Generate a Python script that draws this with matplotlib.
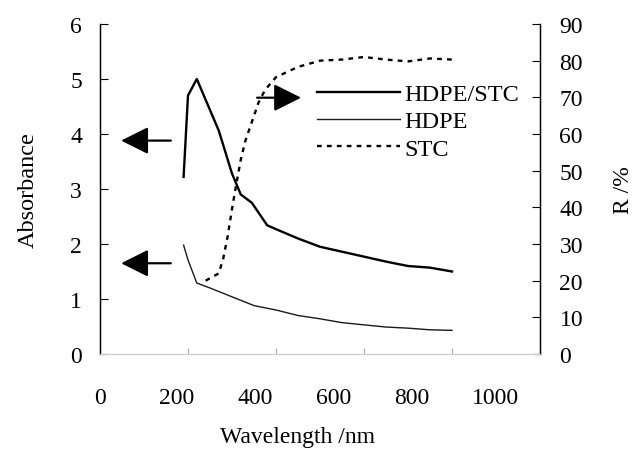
import matplotlib
matplotlib.use("Agg")
import matplotlib.pyplot as plt
from matplotlib.ticker import FixedLocator

plt.rcParams['font.family'] = ['Liberation Serif', 'DejaVu Serif']

# ---- data ----
hdpe_stc_wl = [190, 200, 220, 270, 300, 320, 345, 380, 400, 450, 500, 550, 600, 650, 700, 750, 800]
hdpe_stc_abs = [3.22, 4.70, 5.00, 4.06, 3.28, 2.90, 2.75, 2.34, 2.27, 2.10, 1.95, 1.86, 1.77, 1.68, 1.60, 1.57, 1.50]

hdpe_wl = [190, 200, 220, 250, 300, 350, 400, 450, 500, 550, 600, 650, 700, 750, 800]
hdpe_abs = [1.98, 1.71, 1.29, 1.20, 1.04, 0.88, 0.80, 0.70, 0.64, 0.57, 0.53, 0.49, 0.47, 0.44, 0.43]

stc_wl = [240, 270, 280, 290, 300, 310, 320, 330, 340, 350, 360, 375, 400, 450, 500, 550, 600, 650, 700, 750, 800]
stc_r = [20.0, 22.0, 26.0, 32.0, 39.5, 46.5, 53.0, 58.0, 61.5, 65.0, 68.5, 72.0, 75.5, 78.3, 80.0, 80.3, 81.0, 80.3, 79.8, 80.6, 80.3]

x_tick_values = [0, 200, 400, 600, 800, 1000]
x_tick_labels = ['0', '200', '400', '600', '800', '1000']
# where the printed x labels sit in the original figure (shifted relative to the marks)
x_label_pos = [0, 175, 352, 530, 709, 898]
left_ticks = [0, 1, 2, 3, 4, 5, 6]
right_ticks = [0, 10, 20, 30, 40, 50, 60, 70, 80, 90]

# arrows: (tail_x, tip_x, absorbance level)
arrows = [(161, 48, 3.88), (161, 48, 1.65), (357, 457, 4.66)]

W, H = 635, 452
fig = plt.figure(figsize=(W / 100, H / 100), dpi=100)
ax = fig.add_axes([100 / W, 1 - 355 / H, 440 / W, 330 / H])
ax2 = ax.twinx()

l1, = ax.plot(hdpe_stc_wl, hdpe_stc_abs, color='black', lw=1.7, label='HDPE/STC')
l2, = ax.plot(hdpe_wl, hdpe_abs, color='#1a1a1a', lw=1.0, label='HDPE')
l3, = ax2.plot(stc_wl, stc_r, color='black', lw=1.7, linestyle=(0, (2.0, 2.2)), label='STC')

ax.set_xlim(0, 1000)
ax.set_ylim(0, 6)
ax2.set_ylim(0, 90)

fs = 17
ax.set_yticks(left_ticks)
ax.set_yticklabels([str(v) for v in left_ticks])
ax2.set_yticks(right_ticks)
ax2.set_yticklabels([str(v) for v in right_ticks])
ax.tick_params(axis='y', direction='in', length=6, width=0.8, pad=13, labelsize=fs)
ax2.tick_params(axis='y', direction='in', length=6, width=0.8, pad=14, labelsize=fs)

ax.set_xticks(x_label_pos)
ax.set_xticklabels(x_tick_labels)
ax.tick_params(axis='x', which='major', length=0, pad=24, labelsize=fs)
ax.xaxis.set_minor_locator(FixedLocator(x_tick_values))
ax.tick_params(axis='x', which='minor', direction='in', length=4, width=0.8, color='#aaaaaa')

for a in (ax, ax2):
    a.spines['top'].set_visible(False)
    a.spines['left'].set_linewidth(0.9)
    a.spines['right'].set_linewidth(0.9)
    a.spines['bottom'].set_color('#cccccc')
    a.spines['bottom'].set_linewidth(0.8)

ax.set_ylabel('Absorbance', fontsize=17.5)
ax.yaxis.set_label_coords(-0.163, 0.5)
ax.yaxis.label.set_va('center')
ax2.set_ylabel('R /%', fontsize=fs)
ax2.yaxis.set_label_coords(1.19, 0.5)
ax2.yaxis.label.set_va('center')
ax.set_xlabel('Wavelength /nm', fontsize=fs)
ax.xaxis.set_label_coords(0.448, -0.2515)
ax.xaxis.label.set_va('center')

for tail, tip, lev in arrows:
    ax.annotate('', xy=(tip, lev), xytext=(tail, lev),
                arrowprops=dict(arrowstyle='-|>,head_length=0.4,head_width=0.2',
                                mutation_scale=42, lw=1.6, color='black',
                                shrinkA=0, shrinkB=0))

leg = ax2.legend([l1, l2, l3], ['HDPE/STC', 'HDPE', 'STC'], frameon=False,
                 loc='upper left', bbox_to_anchor=(317 / W, 1 - 84 / H),
                 bbox_transform=fig.transFigure, borderpad=0, borderaxespad=0,
                 handlelength=3.4, handletextpad=0.2, labelspacing=0.22,
                 fontsize=17.5)

fig.savefig('out.png', dpi=100)
